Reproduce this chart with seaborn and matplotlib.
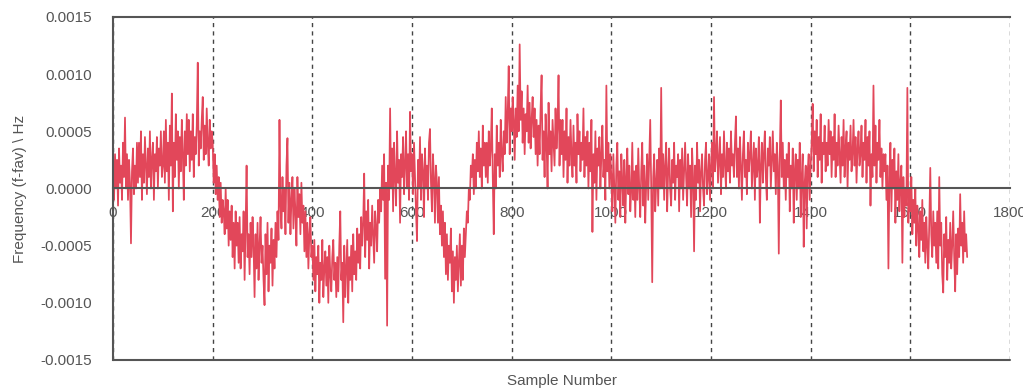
import numpy as np
import pandas as pd
import matplotlib
matplotlib.use("Agg")
import matplotlib.pyplot as plt
from matplotlib.ticker import FormatStrFormatter, MultipleLocator
import seaborn as sns

# frequency offset every 2 samples, in units of 1e-4 Hz
# (one row = 50 samples)
freq_e4 = [
    1, -1, 3, 0, 2.5, -1.5, 3.5, 0.5, 2, -1, 4, 1, 6.2, 0, 3, -1, 2.5, 0.5, -4.8, 1.5, 3.5, -0.5, 2, 0, 4,
    0.5, 4, 1, 5, -1, 3, 0.5, 4.5, 2, -0.5, 3.5, 1, 5, 0, 2.5, 4, -1, 3, 1.5, 4.5, 0, 3.5, 2, 5, 1,
    2, 5, 0.5, 6, 1.5, 4, -1, 5.5, 2, 8.3, -2, 4, 1, 6.5, 2.5, 5, 0, 4.5, 1.5, 6, 3, -1, 5, 2, 6.5,
    3, 6, 1.5, 5, 2.5, 6.5, 1, 4.5, 3, 5.5, 11, 2, 5, 3.5, 6, 8, 2.5, 5.5, 3, 7, 4, 2, 6, 3.5, 5,
    4, 0.5, 3, -0.5, 2, -1, 1, -2.5, 0.5, -3, -1, -2, -4, 0, -3.5, -1, -5, -2, -4.5, -1.5, -6, -3, -7, -2, -5,
    -3, -6.5, -2.5, -7, -4, -5.5, -2, -8, -3.5, 2, -6, -4, -7.5, -3, -6, -2.5, -5, -9.5, -4, -7, -3, -8, -5, -2.5, -6.5,
    -5, -8, -10.2, -4, -7.5, -3, -9, -5, -6.5, -3.5, -8.5, -4.5, -7, -3, -6, -2, -4.5, 6, -1.5, -3.5, 1, -2, 0, -4, 2,
    4.4, -3, 0.5, -4, -1, 1, -3.5, 0, -2, -5, 1, -2.5, -0.5, -4, 0.5, -3, -1.5, -5.5, -2, -6, -3, -7, -4, -2.5, -6,
    -5, -8, -4.5, -9, -6, -7.5, -5, -10, -6.5, -8, -4.5, -9.5, -7, -5.5, -8.5, -6, -10, -5, -7.5, -9, -6, -4.5, -8, -6.5, -9.5,
    -6, -9, -5, -2, -8, -6.5, -11.7, -5, -9.5, -7, -4.5, -10, -6, -8, -5, -9, -4, -7.5, -5.5, -8, -3.5, -6.5, -4, -7, -2.5,
    -5, -3, 1.3, -6, -2, -4.5, -1, -7, -3, -5, -1.5, -4, -6.5, -2, -3.5, -5.5, -1, -3, 0, -2, 2, -1, 3, -7.9, 0.5,
    -12, 2, -1, 7, 0, 3.5, -2, 4, 1, -1.5, 5, 0.5, 2.5, -3, 3, 1, 4.5, -0.5, 2, 5, 0, 3, -1, 6.7, 1.5,
    3, -0.5, 4, 1, -2, -4.6, 2.5, 0, 4.5, -1, 3, 1.5, -2.5, 3.5, 0, 2, -1, 4, 5.2, 0.5, -2, 3, 1, -3, 2,
    0.5, -3, 1, -4, -1.5, -5, -2, -6, -3, -7.5, -4, -8, -5, -6.5, -3.5, -9, -5.5, -10, -6, -8, -5, -9, -6.5, -4, -8.5,
    -5, -8, -3.5, -6, -4, -2, -3, 0, -1, 2, 1, 3, -0.5, 2.5, 0, 4, 1.5, 5, 1, 3.5, 0, 5.5, 2, 4, 1,
    4, 0.5, 5, 2, 3.5, 7, 1, -4, 3, 0, 5.5, 2, 4, 1, 6, 3, 1.5, 5, 3, 8, 4, 6.5, 10.7, 3, 7,
    5, 8, 6, 2.5, 7, 4.5, 9, 5, 12.6, 6, 8.5, 4, 7, 3, 6.5, 5, 9, 4, 7.5, 3.5, 6, 8, 4.5, 7, 3,
    6, 2, 5.5, 3, 7, 9.9, 2.5, 5, 1, 6.5, 4, 0, 7.5, 3, 5, 1.5, 6, 4, 2, 7, 3.5, 5.5, 9.9, 2, 6,
    3, 6, 1, 5, 2.5, 7, 0.5, 4.5, 2, 6, 3, 1, 5.5, 2, 4, 0.5, 6.5, 3, 5, 1.5, 4, 2.5, 7, 1, 4.5,
    2, 5, 0, 4, 1.5, 6, -3.8, 3, 0.5, 5, -1, 3.5, 2, 4.5, 0, 3, 5.5, 1, 2.5, -1, 9, 1.5, 4, 0, 3,
    1, -2, 3, 0, -3, 2, 4, -1, 1.5, -2.5, 3, 0.5, -1.5, 2.5, -3, 1, 3.5, -0.5, 2, -2, 0, 4, -1, 1.5, -2.5,
    2, -1, 3.5, 0, -2.5, 1.5, 4, -1.5, 2, -3, 0.5, 3, -1, 2.5, 6, 0, -8.2, 1, 3, -2, 0.5, 2.5, -1.5, 3.5, 0,
    8.8, 0, 3, -1, 2, 4, -2, 1.5, 3.5, 0, -1.5, 2.5, 0.5, 4, -1, 2, 1, 3, -2, 2.5, 0, 3.5, -1, 1.5, 4,
    1, -1.5, 3, 0, 2, -2.5, 3.5, 1, -5.5, 2, -1, 4, 0.5, 2.5, -2, 1.5, 3, 0, -1.5, 2.5, 4, -0.5, 1, 3, -1,
    2, 4, 0, 8, 1.5, 3, 5, 0.5, 2.5, 4.5, -0.5, 3, 1, 5, 2, 0, 4, 1.5, 3.5, 0.5, 5, 2, 3, 1, 4,
    6.3, 1, 3.5, 0, 4.5, 2, -1, 3, 5, 1, 2.5, -0.5, 4, 1.5, 3, 5, 0, 2, 4, -1, 3.5, 1, 2, 4.5, -3,
    2, 4, 0.5, 3, 5, 1, -1, 3.5, 2, 4.5, 0, 2.5, 5, 1.5, 3, -0.5, 4, 2, -5.7, 3, 7.7, 1, 4, 0, 2.5,
    -1, 3, 1, 4, -2, 2, 0, 3.5, -3, 1.5, 3, -1, 2.5, 0, 4, -2.5, 1, 3, -5.1, 0.5, 2, -3.5, 1.5, 3, -1,
    2, 4, 7.4, 1.5, 5, 3, 6, 1, 4.5, 2.5, 6.5, 0.5, 4, 3, 5.5, 1.5, 4, 2, 6, 3, 5, 1, 4.5, 2.5, 6.5,
    1, 4, 2, 5.5, 3, 0.5, 4.5, 2, 6, 1, 3.5, 5, 0, 4, 2.5, 5.5, 1.5, 3, 6, 2, 4.5, 0.5, 3.5, 5, 2,
    3, 5.5, 1, 4, 2.5, 6, 0.5, 4.5, 2, 5, -1.5, 3, 1, 9, 2, 5.5, 0.5, 4, 2.5, 6, 1, 3.5, 0, 3, 1.5,
    3, -1, 2, -7, 1, 4, -2, 2.5, 0, 3.5, -3, 1.5, -1, 3, -2, 0.5, 2, -6.5, 1, -2.5, 0, -1.5, 8.8, -3, 0,
    -2, 1, -4, -1, -3, 0, -5, -1.5, -3.5, -6, -2, -4.5, -1, -5.5, -3, -6.5, -2.5, -5, -7, -3, 1.8, -4, -6, -2, -5,
    -3, -6.5, -2, -7, 1, -5, -3, -7.5, -9.1, -4, -6, -2.5, -8, -4.5, -6.5, -3, -7, -5, -2, -6, -9, -4, -7.5, -3.5, -6,
    -0.5, -5, -3, -6.5, -2, -5.5, -4, -6,
]
sample_step = 2

df = pd.DataFrame({
    "sample": np.arange(len(freq_e4)) * sample_step,
    "freq": np.array(freq_e4) * 1e-4,
})

sns.set_style("white")
plt.rcParams["font.family"] = ["Liberation Sans", "DejaVu Sans"]

fig = plt.figure(figsize=(10.23, 3.9), dpi=100)
ax = fig.add_axes([0.1105, 0.077, 0.8768, 0.8795])

sns.lineplot(data=df, x="sample", y="freq", ax=ax, color="#e2475a", linewidth=1.25)

ax.set_xlim(0, 1800)
ax.set_ylim(-0.0015, 0.0015)
ax.xaxis.set_major_locator(MultipleLocator(200))
ax.yaxis.set_major_locator(MultipleLocator(0.0005))
ax.yaxis.set_major_formatter(FormatStrFormatter("%.4f"))

# vertical dashed gridlines only
ax.grid(axis="x", color="#444444", linestyle=(0, (3, 3)), linewidth=1.0)
ax.grid(axis="y", visible=False)
for gl in ax.get_xgridlines():
    gl.set_clip_on(False)

axis_col = "#555555"
# x axis drawn through zero, box closed at the bottom
ax.spines["bottom"].set_position(("data", 0))
ax.spines["right"].set_visible(False)
for s in ["bottom", "left", "top"]:
    ax.spines[s].set_color(axis_col)
    ax.spines[s].set_linewidth(1.5)
ax.axhline(-0.0015, color=axis_col, linewidth=1.5, clip_on=False)

ax.tick_params(axis="x", direction="inout", length=9, width=1.2, color=axis_col,
               labelsize=11, labelcolor="#555555", pad=8)
ax.tick_params(axis="y", direction="inout", length=12, width=1.2, color=axis_col,
               labelsize=11, labelcolor="#555555", pad=9)

ax.set_xlabel("Sample Number", fontsize=11, color="#555555")
ax.xaxis.set_label_coords(0.5, -0.04)
ax.set_ylabel("Frequency (f-fav) \\ Hz", fontsize=11, color="#555555")
ax.yaxis.set_label_coords(-0.096, 0.5)

fig.savefig("out.png", dpi=100)
